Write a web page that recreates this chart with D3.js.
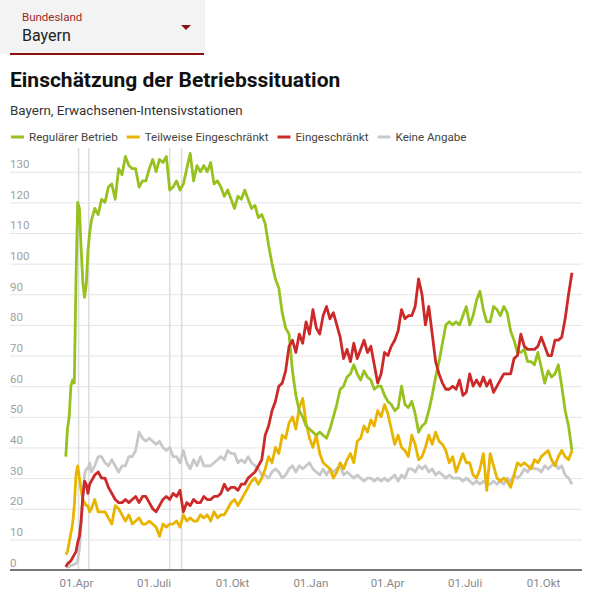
<!DOCTYPE html>
<html>
<head>
<meta charset="utf-8">
<script src="https://cdn.jsdelivr.net/npm/d3@7"></script>
<style>
  body { margin: 0; background: #fff; font-family: Roboto, "Noto Sans", sans-serif; }
  .chart svg { display: block; }
</style>
</head>
<body>
<div class="chart"></div>
<script>
const width = 600;
const height = 602;

// days since 20.03.2020 (first 30 days every 2nd day, then every 4th day)
const startDate = new Date(2020, 2, 20);
const dayOffsets = d3.range(0, 31, 2).concat(d3.range(34, 595, 4));
const dates = dayOffsets.map(o => d3.timeDay.offset(startDate, o));

const seriesNames = ["Regulärer Betrieb", "Teilweise Eingeschränkt", "Eingeschränkt", "Keine Angabe"];
const seriesColors = ["#96c11f", "#e8b400", "#cc2929", "#c8c8c8"];

const regulaer = [
  37,46,50,60,62,61,95,120,118,105,94,89,93,104,110,114,
  118,116,121,120,125,126,121,131,129,135,
  132,131,131,125,127,127,131,134,130,134,
  133,135,124,125,127,124,126,131,136,127,
  132,130,132,130,133,126,127,125,122,124,
  121,118,122,121,124,121,118,119,115,116,
  113,106,100,95,92,84,79,77,65,57,
  52,50,47,46,45,44,45,44,43,46,
  50,54,59,60,63,64,67,64,62,65,
  63,62,59,60,60,57,55,54,52,53,
  60,54,53,55,51,45,47,48,52,57,
  63,68,74,80,81,80,81,80,83,86,
  80,83,88,91,85,81,81,86,85,83,
  86,84,78,75,71,71,72,68,68,67,
  71,66,61,65,63,64,67,60,52,47,
  39
];
const teilweise = [
  5,6,9,12,15,21,31,34,30,26,23,22,21,21,19,20,
  23,19,19,19,17,15,21,20,18,16,
  18,15,16,17,15,15,16,15,14,11,
  15,14,15,15,16,14,18,16,17,16,
  16,18,17,18,16,19,17,18,18,20,
  22,23,21,23,25,27,29,30,28,30,
  33,37,35,40,38,44,43,48,50,46,
  53,56,48,43,40,44,38,35,34,33,
  30,32,35,33,36,38,35,42,43,47,
  45,49,47,52,50,54,51,46,41,44,
  40,39,37,44,41,36,37,40,44,41,
  45,42,41,39,35,37,32,35,38,35,
  35,31,30,33,38,26,38,34,30,29,
  30,29,27,31,35,34,35,34,33,36,
  35,37,38,39,36,34,37,39,37,36,
  39
];
const eingeschraenkt = [
  1,2,2.5,3,4,5,6,9,11,16,24,29,28,25,28,29,
  31,32,30,30,27,25,23,22,22,23,
  22,23,24,22,24,24,22,20,19,21,
  23,24,23,25,24,26,19,22,21,23,
  22,22,24,23,23,24,24,25,28,26,
  27,27,26,28,28,30,31,32,34,36,
  44,47,52,55,60,61,65,73,75,71,
  77,74,81,77,85,79,77,83,86,82,
  84,80,76,69,72,68,74,69,72,75,
  71,73,67,61,64,71,70,73,75,78,
  85,82,83,83,86,95,90,80,86,77,
  68,64,61,59,59,60,59,62,57,58,
  64,60,62,60,63,60,62,58,60,62,
  64,64,64,69,70,77,73,72,72,72,
  73,76,73,70,70,75,75,76,82,90,
  97
];
const keineAngabe = [
  1,1,1,1.5,1.5,2,2,3,7,15,24,31,33,33,35,32,
  34,37,37,35,34,36,34,32,34,34,
  37,37,39,45,43,42,43,42,41,42,
  40,39,40,37,37,35,39,35,33,36,
  34,37,34,34,34,35,36,37,36,39,
  38,38,35,36,35,37,35,34,33,31,
  31,30,32,33,32,30,31,33,34,32,
  34,33,34,35,33,32,31,33,31,33,
  32,33,34,31,32,31,30,31,30,29,
  30,30,29,30,29,30,29,30,31,29,
  31,30,33,33,32,34,33,34,32,33,
  31,32,31,30,31,30,30,30,29,30,
  29,28,29,28,29,28,28,29,28,29,
  28,30,29,31,30,31,33,32,34,33,
  33,32,34,33,34,35,33,34,31,30,
  28
];

const tickDates = [new Date(2020,3,1), new Date(2020,6,1), new Date(2020,9,1), new Date(2021,0,1),
                   new Date(2021,3,1), new Date(2021,6,1), new Date(2021,9,1)];
const tickLabels = ["01.Apr", "01.Juli", "01.Okt", "01.Jan", "01.Apr", "01.Juli", "01.Okt"];
const yTicks = [0,10,20,30,40,50,60,70,80,90,100,110,120,130];
const markerDates = [new Date(2020,3,4), new Date(2020,3,16), new Date(2020,6,20), new Date(2020,7,3)];

const svg = d3.select(".chart")
    .append("svg")
    .attr("width", width)
    .attr("height", height)
    .attr("viewBox", [0, 0, width, height]);

// dropdown "Bundesland"
svg.append("rect")
    .attr("x", 0).attr("y", 0)
    .attr("width", 205).attr("height", 54)
    .attr("fill", "#f3f3f3");
svg.append("line")
    .attr("x1", 10).attr("x2", 204)
    .attr("y1", 54).attr("y2", 54)
    .attr("stroke", "#8c1010").attr("stroke-width", 2);
svg.append("text")
    .attr("x", 22).attr("y", 21)
    .attr("font-size", 11.5).attr("fill", "#9b2a1f")
    .text("Bundesland");
svg.append("text")
    .attr("x", 22).attr("y", 41)
    .attr("font-size", 16).attr("fill", "#222")
    .text("Bayern");
svg.append("path")
    .attr("d", "M181,25L191,25L186,30Z")
    .attr("fill", "#8c1010");

// title + subtitle
svg.append("text")
    .attr("x", 10).attr("y", 87)
    .attr("font-size", 21).attr("font-weight", "bold").attr("fill", "#111")
    .text("Einschätzung der Betriebssituation");
svg.append("text")
    .attr("x", 10).attr("y", 115)
    .attr("font-size", 13.4).attr("fill", "#333")
    .text("Bayern, Erwachsenen-Intensivstationen");

// legend
let lx = 11;
const legend = svg.append("g").attr("transform", "translate(0,137)");
seriesNames.forEach((name, i) => {
    legend.append("line")
        .attr("x1", lx).attr("x2", lx + 13)
        .attr("y1", 0).attr("y2", 0)
        .attr("stroke", seriesColors[i]).attr("stroke-width", 3);
    const t = legend.append("text")
        .attr("x", lx + 18).attr("y", 4)
        .attr("font-size", 11.6).attr("fill", "#444")
        .text(name);
    lx += 18 + t.node().getComputedTextLength() + 9;
});

// scales
const x = d3.scaleTime()
    .domain([tickDates[0], tickDates[6]])
    .range([76, 543]);
const y = d3.scaleLinear()
    .domain([0, 130])
    .range([570, 171.7]);

// grid + y labels
svg.append("g")
    .attr("transform", "translate(10,0)")
    .call(d3.axisRight(y).tickValues(yTicks).tickSize(572))
    .call(g => g.select(".domain").remove())
    .call(g => g.selectAll(".tick line").attr("stroke", "#e4e4e4"))
    .call(g => g.selectAll(".tick text")
        .attr("x", 0).attr("dy", -4)
        .attr("fill", "#a0a0a0")
        .attr("font-size", 11.5)
        .attr("font-family", "Roboto"));

// marker lines
svg.append("g")
    .selectAll("line")
    .data(markerDates)
    .join("line")
    .attr("x1", d => x(d)).attr("x2", d => x(d))
    .attr("y1", 148).attr("y2", 570)
    .attr("stroke", "#dcdcdc").attr("stroke-width", 1.5);

// x axis
svg.append("line")
    .attr("x1", 10).attr("x2", 582)
    .attr("y1", 570).attr("y2", 570)
    .attr("stroke", "#777").attr("stroke-width", 2);
svg.append("g")
    .attr("transform", "translate(0,570)")
    .call(d3.axisBottom(x).tickValues(tickDates).tickFormat((d, i) => tickLabels[i]).tickSize(0).tickPadding(9))
    .call(g => g.select(".domain").remove())
    .call(g => g.selectAll(".tick text")
        .attr("fill", "#888")
        .attr("font-size", 11.5)
        .attr("font-family", "Roboto"));

// lines
const line = d3.line()
    .x((d, i) => x(dates[i]))
    .y(d => y(d));

const drawOrder = [[keineAngabe, 3], [teilweise, 1], [regulaer, 0], [eingeschraenkt, 2]];
svg.append("g")
    .selectAll("path")
    .data(drawOrder)
    .join("path")
    .attr("d", d => line(d[0]))
    .attr("fill", "none")
    .attr("stroke", d => seriesColors[d[1]])
    .attr("stroke-width", 2.8)
    .attr("stroke-linejoin", "round");
</script>
</body>
</html>
